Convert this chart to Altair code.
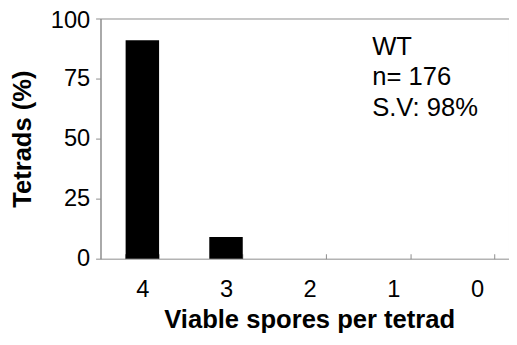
import altair as alt
import pandas as pd

categories = ["4", "3", "2", "1", "0"]
tetrads_pct = [91, 9, 0, 0, 0]
y_ticks = [0, 25, 50, 75, 100]
note_lines = ["WT", "n= 176", "S.V: 98%"]

df = pd.DataFrame({"spores": categories, "pct": tetrads_pct})

FONT = "Liberation Sans"
GRAY = "#8c8c8c"

bars = alt.Chart(df).mark_bar(color="black").encode(
    x=alt.X(
        "spores:N",
        sort=categories,
        scale=alt.Scale(range=[0, 425], paddingInner=0.6, paddingOuter=0.3),
        axis=alt.Axis(
            title="Viable spores per tetrad",
            labelAngle=0,
            labelFontSize=24,
            labelColor="black",
            labelPadding=19,
            titleFontSize=26,
            titleFontWeight="bold",
            titleColor="black",
            titlePadding=6,
            titleX=212,
            tickBand="extent",
            tickSize=5,
            tickColor=GRAY,
            offset=-5,
            domain=False,
        ),
    ),
    y=alt.Y(
        "pct:Q",
        scale=alt.Scale(domain=[0, 100], nice=False),
        axis=alt.Axis(
            title="Tetrads (%)",
            values=y_ticks,
            grid=False,
            labelFontSize=24,
            labelColor="black",
            labelPadding=6,
            labelOffset={"condition": {"test": "datum.value == 100", "value": 2}, "value": 0},
            tickSize=5,
            tickColor=GRAY,
            domainColor=GRAY,
            titleFontSize=26,
            titleFontWeight="bold",
            titleColor="black",
            titlePadding=15,
        ),
    ),
)

notes = alt.Chart(pd.DataFrame({"t": ["\n".join(note_lines)]})).mark_text(
    align="left", baseline="alphabetic", fontSize=26, font=FONT,
    lineHeight=31, lineBreak="\n", color="black"
).encode(
    text="t:N",
    x=alt.value(276),
    y=alt.value(37),
)

chart = (
    alt.layer(bars, notes)
    .properties(
        width=415,
        height=244,
        autosize=alt.AutoSizeParams(type="none"),
        padding={"left": 94, "top": 8, "right": 0, "bottom": 85},
    )
    .configure(font=FONT)
    .configure_view(stroke=GRAY, strokeWidth=1)
)

chart.save("out.html", embed_options={"renderer": "svg", "actions": False})
